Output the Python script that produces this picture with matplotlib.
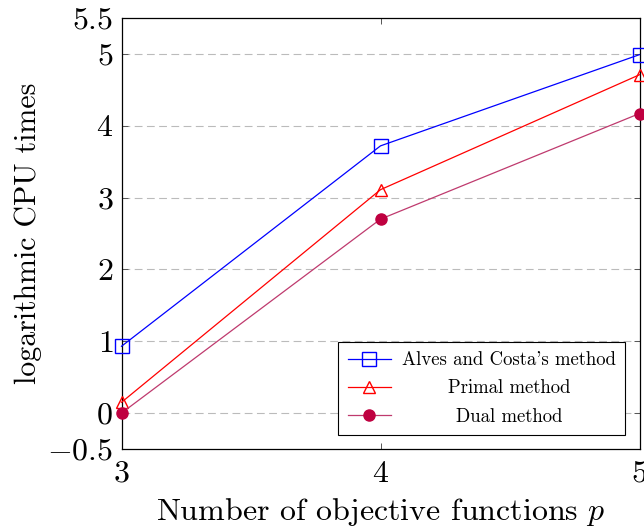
import matplotlib
matplotlib.use("Agg")
import matplotlib.pyplot as plt

plt.rcParams['font.family'] = ['cmr10', 'DejaVu Serif']
plt.rcParams['mathtext.fontset'] = 'cm'
plt.rcParams['axes.formatter.use_mathtext'] = True

# data
p_values = [3, 4, 5]
alves_costa = [0.93, 3.72, 4.99]
primal = [0.15, 3.11, 4.71]
dual = [0.0, 2.70, 4.17]

y_ticks = [-0.5, 0, 1, 2, 3, 4, 5, 5.5]
y_tick_labels = ['$-0.5$', '$0$', '$1$', '$2$', '$3$', '$4$', '$5$', '$5.5$']
x_ticks = [3, 4, 5]
x_tick_labels = ['$3$', '$4$', '$5$']

fig = plt.figure(figsize=(6.44, 5.31), dpi=100)
ax = fig.add_axes([121.5 / 644, 1 - 449 / 531, (639.5 - 121.5) / 644, (449 - 18) / 531])

ax.plot(p_values, alves_costa, color='blue', lw=0.9, marker='s', ms=9.5,
        mfc='none', mec='blue', mew=1.0, label="Alves and Costa's method", clip_on=False, zorder=4)
ax.plot(p_values, primal, color='red', lw=0.9, marker='^', ms=8,
        mfc='none', mec='red', mew=1.0, label='Primal method', clip_on=False, zorder=4)
ax.plot(p_values, dual, color='#bf3a6e', lw=0.9, marker='o', ms=8,
        mfc='#bf0040', mec='#bf0040', label='Dual method', clip_on=False, zorder=4)

ax.set_xlim(3, 5)
ax.set_ylim(-0.5, 5.5)
ax.set_yticks(y_ticks)
ax.set_yticklabels(y_tick_labels)
ax.set_xticks(x_ticks)
ax.set_xticklabels(x_tick_labels)
ax.tick_params(direction='in', length=4.5, width=0.7, color='#555555',
               labelsize=23, top=True, right=True, pad=6)
ax.tick_params(axis='x', pad=8)

for y in y_ticks[1:-1]:
    ax.axhline(y, color='#bbbbbb', lw=0.8, ls=(0, (7, 4)), zorder=1)

for s in ax.spines.values():
    s.set_linewidth(0.9)

ax.set_xlabel('Number of objective functions $p$', fontsize=23, labelpad=6)
ax.set_ylabel('logarithmic CPU times', fontsize=21.5, labelpad=4)

leg = ax.legend(loc='lower right', fontsize=13.5, fancybox=False, framealpha=1,
                edgecolor='black', borderaxespad=0.75, handlelength=2.3,
                labelspacing=0.55, borderpad=0.5, handletextpad=0.6)
leg.get_frame().set_linewidth(0.8)

# center legend labels like pgfplots
fig.canvas.draw()
renderer = fig.canvas.get_renderer()
widths = [t.get_window_extent(renderer).width for t in leg.get_texts()]
w_max = max(widths)
for t, w in zip(leg.get_texts(), widths):
    t.set_x((w_max - w) / 2)

fig.savefig('out.png', dpi=100)
